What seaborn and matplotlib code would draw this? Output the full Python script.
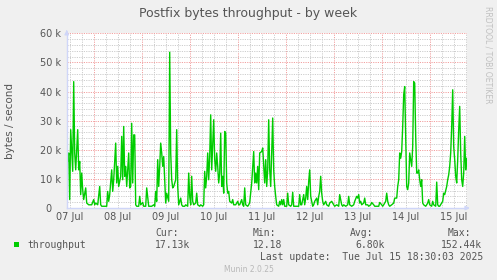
import numpy as np
import pandas as pd
import matplotlib
matplotlib.use("Agg")
import matplotlib.pyplot as plt
import matplotlib.dates as mdates
import matplotlib.ticker as mticker
import seaborn as sns

# ---- data (30-minute steps since start, values in k bytes/s) ----
step_index = [
    0, 1, 2, 3, 4, 6, 7, 8, 9, 11, 12, 13, 14, 15, 16, 17, 19, 20, 22, 23, 25, 27, 28, 29, 31, 33, 34, 35,
    40, 41, 42, 43, 45, 46, 47, 49, 50, 51, 52, 54, 55, 56, 57, 58, 59, 60, 62, 63, 64, 65, 66, 67, 68,
    69, 70, 72, 73, 74, 76, 77, 79, 80, 82, 83, 85, 87, 88, 89, 90, 91, 92, 93, 94, 95, 96, 97, 98, 99,
    100, 102, 103, 104, 105, 106, 107, 109, 110, 111, 112, 114, 115, 116, 118, 119, 121, 122, 123, 124,
    125, 126, 127, 129, 130, 131, 133, 134, 136, 137, 138, 139, 140, 141, 142, 143, 144, 145, 147, 148,
    149, 150, 151, 152, 153, 154, 155, 156, 157, 158, 159, 160, 161, 162, 163, 165, 166, 167, 169, 170,
    171, 172, 173, 175, 176, 177, 178, 179, 181, 182, 183, 184, 185, 187, 188, 189, 190, 191, 192, 193,
    195, 196, 197, 198, 199, 200, 201, 202, 203, 204, 205, 206, 207, 208, 209, 210, 212, 213, 214, 215,
    216, 217, 218, 220, 221, 222, 224, 225, 226, 227, 228, 230, 232, 233, 234, 235, 237, 238, 239, 240,
    241, 242, 243, 244, 246, 247, 248, 250, 251, 252, 253, 254, 255, 256, 257, 259, 260, 262, 263, 265,
    267, 268, 270, 272, 273, 275, 276, 277, 279, 281, 282, 283, 285, 287, 288, 290, 291, 292, 293, 294,
    295, 297, 298, 299, 301, 302, 304, 305, 307, 308, 310, 312, 313, 315, 316, 317, 319, 320, 321, 322,
    323, 325, 327, 328, 330, 331, 332, 333, 334, 335, 336, 337, 338, 339, 340, 341, 342, 343, 344, 345,
    346, 347, 348, 349, 350, 351, 352, 353, 354, 355, 356, 357, 359, 360, 361, 362, 363, 365, 366, 367,
    369, 370, 371, 372, 373, 375, 376, 377, 378, 380, 381, 382, 383, 384, 385, 386, 387, 388, 389, 390,
    391, 392, 393, 394, 395, 396, 397, 398, 399, 400,
]
throughput_k = [
    16.0, 16.0, 18.9, 2.9, 26.9, 12.6, 43.4, 18.9, 13.1, 26.9, 13.1, 16.0, 4.6, 12.0, 6.3, 2.9, 6.9, 1.7,
    1.1, 1.1, 1.1, 2.9, 1.1, 1.7, 1.1, 7.4, 1.1, 0.6,
    0.6, 5.7, 2.3, 4.6, 13.1, 5.7, 9.7, 22.3, 8.6, 14.3, 7.4, 10.9, 24.6, 9.7, 28.0, 10.9, 14.3, 7.4,
    18.9, 6.9, 7.4, 29.1, 8.6, 25.1, 25.1,
    1.1, 0.6, 0.6, 4.0, 1.1, 1.9, 0.6, 0.6, 6.9, 0.6, 0.6, 0.6, 1.1, 0.6, 5.7, 2.3, 16.6, 7.4, 14.3, 22.3,
    18.9, 14.3, 17.7, 9.7, 1.7,
    5.1, 2.3, 53.5, 18.9, 9.7, 6.9, 7.4, 9.7, 26.9, 7.4, 1.1, 3.4, 1.1, 0.6, 0.6, 1.1, 0.6, 12.0, 4.0, 1.1,
    10.9, 2.3, 1.1, 1.7, 5.1, 1.1, 0.6, 1.1, 0.6, 1.1, 12.6, 6.9, 10.9, 18.9, 9.7, 17.7, 32.0, 13.1, 30.3,
    16.6,
    12.6, 18.9, 14.3, 8.6, 12.0, 25.7, 7.4, 10.9, 5.1, 26.3, 25.7, 8.6, 5.1, 5.7, 2.3, 1.7, 2.9, 1.1, 1.1,
    1.7,
    2.3, 1.1, 1.1, 2.9, 1.1, 0.6, 6.9, 1.1, 0.6, 1.1, 1.9, 5.1, 8.6, 19.4, 8.6, 12.0, 8.6, 14.3, 6.3, 18.9,
    19.4, 20.6, 14.3, 8.6, 16.6, 7.4, 13.1, 30.3, 13.1, 7.4, 18.9, 30.9, 13.1, 7.4, 4.0, 1.1, 0.6, 2.3,
    1.1, 2.9,
    1.1, 2.9, 0.6, 0.6, 5.1, 1.1, 0.6, 1.1, 5.4, 0.6, 0.6, 0.6, 0.6, 4.6, 1.1, 1.1, 4.6, 1.1, 3.4, 7.4,
    2.9, 9.1, 13.1, 4.0, 0.6, 1.1, 2.3, 3.4, 1.1, 4.0, 5.7, 10.9, 5.1, 2.3, 1.1, 2.3, 1.1, 0.6, 1.7, 2.3,
    1.1, 0.6, 1.1, 0.6, 4.6, 1.1, 0.6, 1.1, 0.6, 1.1, 4.0, 1.1, 0.6, 1.1, 2.3, 4.0, 3.4, 4.6, 1.7, 2.3,
    1.1, 1.7, 3.4, 1.1, 1.1, 0.6, 1.1, 1.9, 1.1, 0.6, 0.6, 0.6, 1.9, 1.1, 0.6, 1.1, 2.3, 5.1, 2.3, 1.1,
    0.6, 1.1, 1.7, 3.4, 3.4, 7.4, 9.7, 18.9, 17.1, 19.4, 28.0, 38.9, 41.7, 24.6, 7.4, 6.3, 8.6, 18.9, 16.6,
    14.3,
    21.1, 43.4, 42.9, 24.6, 12.0, 12.0, 13.1, 9.7, 7.4, 9.7, 1.7, 1.1, 0.6, 1.1, 1.7, 2.9, 1.1, 0.6, 2.3,
    1.1,
    0.6, 8.9, 1.1, 0.6, 0.6, 1.7, 2.3, 5.1, 4.6, 7.4, 9.7, 11.4, 14.3, 18.9, 28.0, 40.6, 21.1, 16.6, 10.9,
    8.6,
    16.6, 26.9, 34.9, 18.9, 9.7, 7.4, 12.0, 24.6, 13.1, 17.1,
]
series_name = "throughput"
stat_names = ["Cur:", "Min:", "Avg:", "Max:"]
stat_values = ["17.13k", "12.18", "6.80k", "152.44k"]
title = "Postfix bytes throughput - by week"
y_label = "bytes / second"
last_update = "Last update:  Tue Jul 15 18:30:03 2025"
side_text = "RRDTOOL / TOBI OETIKER"
footer = "Munin 2.0.25"
start = pd.Timestamp("2025-07-07 10:30")
end = pd.Timestamp("2025-07-15 18:30")

times = start + pd.to_timedelta(np.array(step_index) * 30, unit="min")
df = pd.DataFrame({"time": times, "bytes": np.array(throughput_k) * 1000.0})

# ---- style ----
sns.set_theme(style="white")
plt.rcParams["font.family"] = ["DejaVu Sans"]
BG = "#F0F0F0"
FONT = "#555555"
GREEN = "#00CC00"
AXIS = "#CFD6F8"
MAJ = "#F2A0A0"
MIN = "#CDCDCD"

W, H = 497, 280
fig = plt.figure(figsize=(W / 100, H / 100), dpi=100, facecolor=BG)
ax = fig.add_axes([66.7 / W, 1 - 208 / H, 400 / W, 174.7 / H])
ax.set_facecolor("white")

sns.lineplot(data=df, x="time", y="bytes", color=GREEN, linewidth=1.0, ax=ax, zorder=3)

ax.set_xlim(start, end)
ax.set_ylim(0, 60000)

# y axis
ax.yaxis.set_major_locator(mticker.MultipleLocator(10000))
ax.yaxis.set_minor_locator(mticker.MultipleLocator(2000))
ax.yaxis.set_major_formatter(
    mticker.FuncFormatter(lambda v, p: "0   " if v == 0 else f"{int(round(v / 1000))} k"))
ax.tick_params(axis="y", which="both", length=0, pad=4, labelsize=7, labelcolor=FONT)

# x axis: midnight major (red grid), 6-hourly minor (grey grid), labels at noon
ax.xaxis.set_major_locator(mdates.DayLocator())
ax.xaxis.set_major_formatter(mticker.NullFormatter())
ax.xaxis.set_minor_locator(mdates.HourLocator(byhour=[6, 12, 18]))

def noon_fmt(v, p):
    d = mdates.num2date(v)
    return d.strftime("%d %b") if d.hour == 12 else ""

ax.xaxis.set_minor_formatter(mticker.FuncFormatter(noon_fmt))
ax.tick_params(axis="x", which="major", length=2, width=0.8, color=MAJ, direction="out")
ax.tick_params(axis="x", which="minor", length=0, pad=3, labelsize=7, labelcolor=FONT)

ax.grid(which="minor", color=MIN, linestyle=(0, (1.2, 1.2)), linewidth=0.7)
ax.grid(which="major", color=MAJ, linestyle=(0, (1.2, 1.2)), linewidth=0.7)
ax.set_axisbelow(True)

ax.set_xlabel("")
ax.set_ylabel(y_label, fontsize=7.5, color=FONT)
ax.yaxis.set_label_coords(-52 / 400, 0.5)

for s in ["top", "right"]:
    ax.spines[s].set_visible(False)
for s in ["left", "bottom"]:
    ax.spines[s].set_color(AXIS)
    ax.spines[s].set_linewidth(1.0)
    ax.spines[s].set_zorder(4)

ax.annotate("", xy=(0, 1.035), xytext=(0, 0.99), xycoords="axes fraction",
            arrowprops=dict(arrowstyle="-|>", color=AXIS, lw=1.0, mutation_scale=6), annotation_clip=False)
ax.annotate("", xy=(1.015, 0), xytext=(0.99, 0), xycoords="axes fraction",
            arrowprops=dict(arrowstyle="-|>", color=AXIS, lw=1.0, mutation_scale=6), annotation_clip=False)

def ft(x, y, s, **kw):
    fig.text(x / W, 1 - y / H, s, **kw)

ft(248, 14, title, ha="center", va="center", fontsize=9, color=FONT)
ft(488, 6, side_text, ha="center", va="top", rotation=270, fontsize=5.5, color="#C0C0C0")

MONO = ["DejaVu Sans Mono"]
fig.patches.append(plt.Rectangle((14 / W, 1 - 247 / H), 5 / W, 5 / H, transform=fig.transFigure,
                                 facecolor=GREEN, edgecolor=GREEN, lw=0))
ft(27, 245, series_name, ha="left", va="center", fontsize=7, color=FONT, family=MONO)

name_x = [155, 253, 350, 448]
val_x = [155, 253, 355, 441]
for nx, vx, n, v in zip(name_x, val_x, stat_names, stat_values):
    ft(nx, 233, n, ha="left", va="center", fontsize=7, color=FONT, family=MONO)
    ft(vx, 245, v, ha="left", va="center", fontsize=7, color=FONT, family=MONO)

ft(483, 257, last_update, ha="right", va="center", fontsize=7, color=FONT, family=MONO)
ft(249, 269, footer, ha="center", va="center", fontsize=5.5, color="#B8B8B8")

fig.savefig("out.png", dpi=100, facecolor=BG)
